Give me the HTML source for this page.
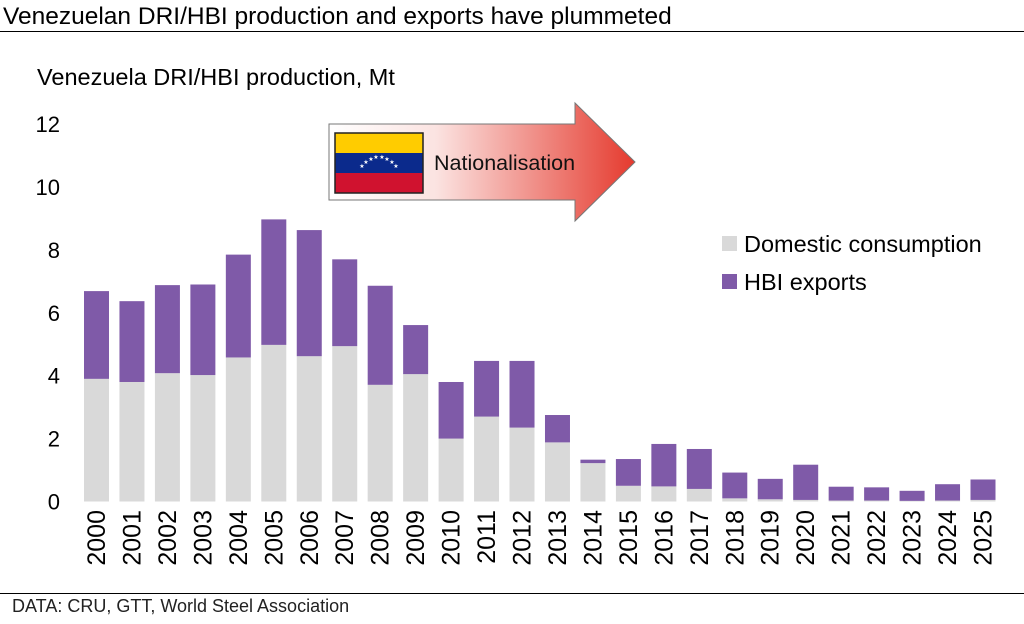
<!DOCTYPE html>
<html><head><meta charset="utf-8"><style>
body{margin:0;background:#fff;font-family:"Liberation Sans",Arial,sans-serif;}
svg text{font-family:"Liberation Sans",Arial,sans-serif;}
</style></head><body>
<svg id="c" width="1024" height="619" xmlns="http://www.w3.org/2000/svg">
<defs>
<linearGradient id="ag" x1="0" x2="1" y1="0" y2="0">
<stop offset="0" stop-color="#fff"/><stop offset="0.35" stop-color="#fbe3e1"/><stop offset="1" stop-color="#e53a2e"/>
</linearGradient>
</defs>
<text x="3" y="24" font-size="24.5" fill="#000">Venezuelan DRI/HBI production and exports have plummeted</text>
<line x1="0" y1="31.5" x2="1024" y2="31.5" stroke="#000" stroke-width="1"/>
<text x="37" y="85" font-size="23.5" fill="#000">Venezuela DRI/HBI production, Mt</text>
<g id="yt"></g><g id="bars"></g><g id="xt"></g>
<g>
<polygon points="329,124 575,124 575,103 635,162 575,221 575,200 329,200" fill="url(#ag)" stroke="#777" stroke-width="1"/>
<rect x="335" y="133" width="88" height="20" fill="#ffcc00"/>
<rect x="335" y="153" width="88" height="20" fill="#0b2a8c"/>
<rect x="335" y="173" width="88" height="20" fill="#d0122f"/>
<rect x="335" y="133" width="88" height="60" fill="none" stroke="#222" stroke-width="1.5"/>
<g fill="#fff" font-size="6" text-anchor="middle">
<text x="362" y="168">★</text><text x="366" y="164">★</text><text x="371" y="161">★</text><text x="376" y="159">★</text><text x="382" y="159">★</text><text x="387" y="161">★</text><text x="392" y="164">★</text><text x="396" y="168">★</text>
</g>
<text x="434" y="170" font-size="21.5" fill="#111">Nationalisation</text>
</g>
<g>
<rect x="722" y="236" width="15" height="15" fill="#d9d9d9"/>
<text x="744" y="252" font-size="23.5">Domestic consumption</text>
<rect x="722" y="274" width="15" height="15" fill="#7f5aa8"/>
<text x="744" y="290" font-size="23.5">HBI exports</text>
</g>
<line x1="0" y1="593.5" x2="1024" y2="593.5" stroke="#000" stroke-width="1"/>
<text x="12" y="612" font-size="18" fill="#222">DATA: CRU, GTT, World Steel Association</text>
</svg>
<script>
const years=["2000","2001","2002","2003","2004","2005","2006","2007","2008","2009","2010","2011","2012","2013","2014","2015","2016","2017","2018","2019","2020","2021","2022","2023","2024","2025"];
const domestic=[3.9,3.8,4.08,4.02,4.58,4.98,4.62,4.94,3.71,4.05,2.0,2.7,2.35,1.88,1.22,0.5,0.48,0.4,0.1,0.07,0.05,0.03,0.03,0.02,0.03,0.05];
const totals=[6.69,6.37,6.88,6.9,7.85,8.97,8.63,7.7,6.86,5.61,3.8,4.47,4.47,2.75,1.33,1.35,1.83,1.67,0.92,0.72,1.17,0.47,0.45,0.34,0.55,0.7];
const yTicks=[0,2,4,6,8,10,12];
const NS="http://www.w3.org/2000/svg";
const y0=501.5,pxPer=31.45,x0=96.5,step=35.46,bw=25;
const ys=v=>y0-v*pxPer, xs=i=>x0+i*step;
function mk(t,a,p){const e=document.createElementNS(NS,t);for(const k in a)e.setAttribute(k,a[k]);p.appendChild(e);return e;}
const yt=document.getElementById('yt'),bars=document.getElementById('bars'),xt=document.getElementById('xt');
yTicks.forEach(v=>{const t=mk('text',{x:60,y:ys(v)+8,'font-size':22,'text-anchor':'end'},yt);t.textContent=v;

});
years.forEach((yr,i)=>{
const d=domestic[i],tot=totals[i];
const r1=mk('rect',{x:xs(i)-bw/2,y:ys(d),width:bw,height:y0-ys(d),fill:'#d9d9d9'},bars);


const r2=mk('rect',{x:xs(i)-bw/2,y:ys(tot),width:bw,height:ys(d)-ys(tot),fill:'#7f5aa8'},bars);


const t=mk('text',{x:0,y:0,'font-size':25,'text-anchor':'end',transform:`translate(${xs(i)+8.5},510) rotate(-90)`},xt);t.textContent=yr;


});
</script>
</body></html>
